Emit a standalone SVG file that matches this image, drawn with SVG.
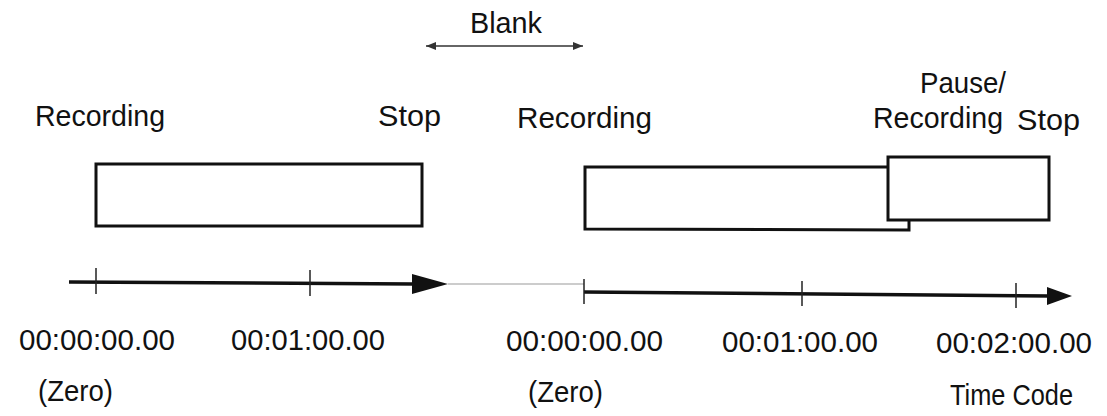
<svg xmlns="http://www.w3.org/2000/svg" width="1107" height="416" viewBox="0 0 1107 416">
<defs>
<style>
text{font-family:"Liberation Sans",Arial,sans-serif;font-size:29px;fill:#111}
.box{fill:none;stroke:#111;stroke-width:3}
.axis{stroke:#111;stroke-width:3.5;fill:none}
.tick{stroke:#222;stroke-width:1.5}
.blank{stroke:#333;stroke-width:1.3}
</style>
<marker id="small" viewBox="0 0 10 8" refX="10" refY="4" markerWidth="10" markerHeight="8" markerUnits="userSpaceOnUse" orient="auto-start-reverse">
<path d="M0,0 L10,4 L0,8 Z" fill="#333"/>
</marker>
</defs>
<rect width="1107" height="416" fill="#fff"/>
<g id="connectors">
<line class="blank" x1="426" y1="46" x2="583" y2="46" marker-start="url(#small)" marker-end="url(#small)"/>
<line x1="69" y1="282" x2="414" y2="284" class="axis"/>
<path d="M412,274 L448,284 L412,294 Z" fill="#111"/>
<line x1="448" y1="284" x2="584" y2="284" stroke="#999" stroke-width="1.2"/>
<line x1="584" y1="292" x2="1050" y2="296" class="axis"/>
<path d="M1047,287 L1072,296 L1047,305 Z" fill="#111"/>
<line class="tick" x1="96" y1="268" x2="96" y2="294"/>
<line class="tick" x1="310" y1="270" x2="310" y2="296"/>
<line class="tick" x1="584" y1="279" x2="584" y2="304"/>
<line class="tick" x1="802" y1="281" x2="802" y2="306"/>
<line class="tick" x1="1016" y1="283" x2="1016" y2="308"/>
</g>
<g id="blank-label"><text x="470" y="33" textLength="72" lengthAdjust="spacingAndGlyphs">Blank</text></g>
<g id="rec1">
<rect class="box" x="96" y="164" width="326" height="62"/>
<text x="35" y="126" textLength="130" lengthAdjust="spacingAndGlyphs">Recording</text>
<text x="378" y="126" textLength="63" lengthAdjust="spacingAndGlyphs">Stop</text>
</g>
<g id="rec2">
<path class="box" d="M888,167 L585,167 L585,229 L909,230 L909,220"/>
<text x="517" y="128" textLength="135" lengthAdjust="spacingAndGlyphs">Recording</text>
</g>
<g id="pause">
<rect class="box" x="888" y="157" width="161" height="63"/>
<text x="920" y="93" textLength="86" lengthAdjust="spacingAndGlyphs">Pause/</text>
<text x="873" y="128" textLength="130" lengthAdjust="spacingAndGlyphs">Recording</text>
<text x="1017" y="130" textLength="63" lengthAdjust="spacingAndGlyphs">Stop</text>
</g>
<g id="timecodes">
<text x="19" y="350" textLength="156" lengthAdjust="spacingAndGlyphs">00:00:00.00</text>
<text x="231" y="350" textLength="154" lengthAdjust="spacingAndGlyphs">00:01:00.00</text>
<text x="506" y="351" textLength="157" lengthAdjust="spacingAndGlyphs">00:00:00.00</text>
<text x="722" y="352" textLength="156" lengthAdjust="spacingAndGlyphs">00:01:00.00</text>
<text x="936" y="353" textLength="156" lengthAdjust="spacingAndGlyphs">00:02:00.00</text>
<text x="38" y="401" textLength="75" lengthAdjust="spacingAndGlyphs">(Zero)</text>
<text x="528" y="402" textLength="75" lengthAdjust="spacingAndGlyphs">(Zero)</text>
<text x="950" y="405" textLength="123" lengthAdjust="spacingAndGlyphs">Time Code</text>
</g>
</svg>
